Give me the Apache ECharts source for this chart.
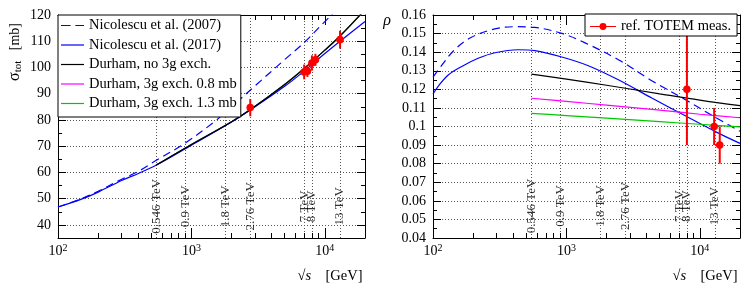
<!DOCTYPE html>
<html>
<head>
<meta charset="utf-8">
<script src="https://cdn.jsdelivr.net/npm/echarts@6/dist/echarts.min.js"></script>
<style>
html,body{margin:0;padding:0;background:#fff;}
#chart{width:747px;height:291px;}
</style>
</head>
<body>
<div id="chart"></div>
<script>
// ---------------- data ----------------
// vertical reference energies (GeV) and their labels
const ENERGIES = [546, 900, 1800, 2760, 7000, 8000, 13000];
const ENERGY_LABELS = ['0.546 TeV', '0.9 TeV', '1.8 TeV', '2.76 TeV', '7 TeV', '8 TeV', '13 TeV'];

// axis ticks
const X_MAJOR = [100, 1000, 10000];
const X_MINOR = [200, 300, 400, 500, 600, 700, 800, 900, 2000, 3000, 4000, 5000, 6000, 7000, 8000, 9000, 20000];
const SIG_Y_MAJOR = [40, 50, 60, 70, 80, 90, 100, 110, 120];
const SIG_Y_MINOR = [45, 55, 65, 75, 85, 95, 105, 115];
const RHO_Y_MAJOR = [0.04, 0.05, 0.06, 0.07, 0.08, 0.09, 0.1, 0.11, 0.12, 0.13, 0.14, 0.15, 0.16];
const RHO_Y_MINOR = [0.045, 0.055, 0.065, 0.075, 0.085, 0.095, 0.105, 0.115, 0.125, 0.135, 0.145, 0.155];

// sigma_tot [mb]
const E_NIC07_SIG = [100, 150, 200, 300, 400, 546, 900, 1500, 2000, 3000, 5000, 7000, 10000, 12000, 20000];
const SIG_NIC07 = [46.8, 50.0, 52.8, 57.4, 60.4, 64.6, 71.2, 79.5, 85.0, 93.0, 103.0, 109.5, 117.5, 121.5, 133.0];
const E_NIC17_SIG = [100, 150, 200, 300, 400, 546, 1000, 2000, 3000, 5000, 7000, 10000, 13000, 20000];
const SIG_NIC17 = [46.8, 49.8, 52.5, 56.9, 59.6, 62.8, 70.4, 79.2, 85.0, 92.8, 98.6, 105.3, 110.0, 117.5];
const E_DUR_SIG = [546, 1000, 2000, 3000, 5000, 7000, 10000, 13000, 20000];
const SIG_DUR_NO3G = [62.8, 70.6, 79.3, 85.2, 93.5, 99.6, 106.6, 112.0, 122.0];
const SIG_DUR_08 = [62.8, 70.6, 79.3, 85.2, 93.5, 99.6, 106.6, 112.0, 122.0];
const SIG_DUR_13 = [62.8, 70.6, 79.3, 85.2, 93.5, 99.6, 106.6, 112.0, 122.0];
const E_TOTEM_SIG = [2760, 7000, 7400, 8000, 8500, 13000];
const TOTEM_SIG = [84.7, 98.3, 98.6, 101.7, 102.9, 110.6];
const TOTEM_SIG_ERR = [3.3, 2.8, 2.2, 2.9, 2.3, 3.4];

// rho
const E_NIC07_RHO = [100, 115, 146, 194, 291, 411, 580, 923, 1380, 2470, 4400, 7850, 12450, 20000];
const RHO_NIC07 = [0.1265, 0.1325, 0.1415, 0.1480, 0.1525, 0.1537, 0.1533, 0.1501, 0.1450, 0.1358, 0.1245, 0.1143, 0.1058, 0.0974];
const E_NIC17_RHO = [100, 109, 130, 163, 218, 291, 435, 580, 923, 1460, 2470, 4400, 7850, 13900, 20000];
const RHO_NIC17 = [0.1175, 0.1215, 0.1277, 0.1322, 0.1367, 0.1397, 0.1413, 0.1408, 0.1374, 0.1327, 0.1250, 0.1152, 0.1056, 0.0963, 0.0909];
const E_DUR_RHO = [546, 1000, 2000, 5000, 10000, 20000];
const RHO_DUR_NO3G = [0.1282, 0.1255, 0.1222, 0.1176, 0.1142, 0.1112];
const RHO_DUR_08 = [0.1152, 0.1135, 0.1115, 0.1088, 0.1066, 0.1047];
const RHO_DUR_13 = [0.1071, 0.1059, 0.1045, 0.1026, 0.1012, 0.0998];
const E_TOTEM_RHO = [8000, 12800, 14100];
const TOTEM_RHO = [0.120, 0.100, 0.090];
const TOTEM_RHO_ERR = [0.030, 0.010, 0.010];

const NAMES = ['Nicolescu et al. (2007)', 'Nicolescu et al. (2017)', 'Durham, no 3g exch.', 'Durham, 3g exch. 0.8 mb', 'Durham, 3g exch. 1.3 mb'];
const TOTEM_NAME = 'ref. TOTEM meas.';

// ---------------- helpers ----------------
const FONT = 'Liberation Serif';
const pairs = (xs, ys) => xs.map((x, i) => [x, ys[i]]);
const triples = (xs, ys, es) => xs.map((x, i) => [x, ys[i], es[i]]);

const BLUE = '#0000ff', BLACK = '#000000', PINK = '#ff00ff', GREEN = '#00c800', RED = '#ff0000';
const GRIDLINE = {show: true, lineStyle: {color: '#555', type: [1, 2], width: 1}};
const ICON_SOLID = 'path://M0,0H23V1.2H0Z';
const ICON_DASHED = 'path://M0,0H10V1.2H0Z M15,0H24V1.2H15Z';

function xAxes(g) {
  const base = {gridIndex: g, type: 'log', logBase: 10, min: 100, max: 20000,
    splitLine: {show: false}, minorTick: {show: false}, minorSplitLine: {show: false}};
  const line = {show: true, onZero: false, lineStyle: {color: '#000', width: 1}};
  return [
    Object.assign({}, base, {position: 'bottom', axisLine: line,
      axisTick: {show: true, inside: true, length: 10, customValues: X_MAJOR, lineStyle: {color: '#000'}},
      axisLabel: {show: true, customValues: X_MAJOR, margin: 5, color: '#000',
        formatter: v => {
          const p = Math.round(Math.log10(v));
          return Math.abs(Math.log10(v) - p) < 1e-6 ? '{b|10}{s|' + p + '}' : '';
        },
        rich: {b: {fontFamily: FONT, fontSize: 14, color: '#000'},
               s: {fontFamily: FONT, fontSize: 10, color: '#000', padding: [0, 0, 7, 0]}}}}),
    Object.assign({}, base, {position: 'bottom', axisLine: {show: false},
      axisTick: {show: true, inside: true, length: 5, customValues: X_MINOR, lineStyle: {color: '#000'}},
      axisLabel: {show: false}}),
    Object.assign({}, base, {position: 'bottom', axisLine: {show: false},
      axisTick: {show: false, customValues: ENERGIES}, axisLabel: {show: false}, splitLine: GRIDLINE}),
    Object.assign({}, base, {position: 'top', axisLine: line,
      axisTick: {show: true, inside: true, length: 10, customValues: X_MAJOR, lineStyle: {color: '#000'}},
      axisLabel: {show: false}}),
    Object.assign({}, base, {position: 'top', axisLine: {show: false},
      axisTick: {show: true, inside: true, length: 5, customValues: X_MINOR, lineStyle: {color: '#000'}},
      axisLabel: {show: false}})
  ];
}

function yAxes(g, min, max, interval, major, minor, fmt) {
  const base = {gridIndex: g, type: 'value', min: min, max: max, interval: interval,
    splitLine: {show: false}, minorTick: {show: false}};
  const line = {show: true, onZero: false, lineStyle: {color: '#000', width: 1}};
  return [
    Object.assign({}, base, {position: 'left', axisLine: line,
      axisTick: {show: true, inside: true, length: 8, customValues: major, lineStyle: {color: '#000'}},
      axisLabel: {show: true, customValues: major, margin: 7, color: '#000', fontFamily: FONT, fontSize: 14, formatter: fmt},
      splitLine: GRIDLINE}),
    Object.assign({}, base, {position: 'left', axisLine: {show: false},
      axisTick: {show: true, inside: true, length: 4, customValues: minor, lineStyle: {color: '#000'}},
      axisLabel: {show: false}}),
    Object.assign({}, base, {position: 'right', axisLine: line,
      axisTick: {show: true, inside: true, length: 8, customValues: major, lineStyle: {color: '#000'}},
      axisLabel: {show: false}}),
    Object.assign({}, base, {position: 'right', axisLine: {show: false},
      axisTick: {show: true, inside: true, length: 4, customValues: minor, lineStyle: {color: '#000'}},
      axisLabel: {show: false}})
  ];
}

function curve(name, xi, yi, xs, ys, color, dashed) {
  return {name: name, type: 'line', xAxisIndex: xi, yAxisIndex: yi, data: pairs(xs, ys),
    symbol: 'none', smooth: 0.35, clip: true, z: 3,
    lineStyle: {color: color, width: 1.2, type: dashed ? [8, 5] : 'solid'},
    itemStyle: {color: color}, emphasis: {disabled: true}};
}

function errorPoints(name, xi, yi, xs, ys, es) {
  return {name: name, type: 'custom', xAxisIndex: xi, yAxisIndex: yi, data: triples(xs, ys, es),
    clip: true, z: 5, itemStyle: {color: RED},
    renderItem: (params, api) => {
      const x = api.value(0), y = api.value(1), e = api.value(2);
      const c = api.coord([x, y]);
      const t = api.coord([x, y + e]);
      const b = api.coord([x, y - e]);
      return {type: 'group', children: [
        {type: 'line', shape: {x1: c[0], y1: t[1], x2: c[0], y2: b[1]}, style: {stroke: RED, lineWidth: 2}},
        {type: 'circle', shape: {cx: c[0], cy: c[1], r: 3.8}, style: {fill: RED}}
      ]};
    }};
}

function energyLabels(xi, yi, yAnchor) {
  return {type: 'scatter', xAxisIndex: xi, yAxisIndex: yi, symbolSize: 0, z: 4, silent: true,
    data: ENERGIES.map((e, i) => ({value: [e, yAnchor], name: ENERGY_LABELS[i]})),
    label: {show: true, position: 'inside', rotate: 90, align: 'center', verticalAlign: 'middle',
      offset: [1, 0], formatter: '{b}', color: '#000', fontFamily: FONT, fontSize: 13}};
}

// x axes: grid0 -> 0..4, grid1 -> 5..9 ; y axes: grid0 -> 0..3, grid1 -> 4..7
const option = {
  backgroundColor: '#fff',
  animation: false,
  grid: [
    {left: 58, top: 15, width: 307, height: 223},
    {left: 433, top: 15, width: 307, height: 223}
  ],
  xAxis: xAxes(0).concat(xAxes(1)),
  yAxis: yAxes(0, 35, 120, 5, SIG_Y_MAJOR, SIG_Y_MINOR, v => (v % 10 === 0 ? String(v) : ''))
    .concat(yAxes(1, 0.04, 0.16, 0.01, RHO_Y_MAJOR, RHO_Y_MINOR, undefined)),
  legend: [
    {orient: 'vertical', left: 58, top: 15, padding: [3, 4, 6, 3], itemGap: 4.5, itemWidth: 23, itemHeight: 14,
      borderColor: '#000', borderWidth: 1, borderRadius: 0, backgroundColor: '#fff', z: 20,
      symbolKeepAspect: true, itemStyle: {borderWidth: 0},
      textStyle: {fontFamily: FONT, fontSize: 14.5, color: '#000'},
      data: NAMES.map((n, i) => ({name: n, icon: i === 0 ? ICON_DASHED : ICON_SOLID}))},
    {orient: 'vertical', left: 585, top: 14, padding: [5, 6, 2, 5], itemWidth: 26, itemHeight: 8,
      borderColor: '#000', borderWidth: 1, borderRadius: 0, backgroundColor: '#fff', z: 20,
      itemStyle: {borderWidth: 0},
      textStyle: {fontFamily: FONT, fontSize: 14.5, color: '#000'},
      data: [{name: TOTEM_NAME, icon: 'path://M0,3.4H30V4.6H0Z M11,4A4,4 0 1,1 19,4A4,4 0 1,1 11,4Z', itemStyle: {color: RED}}]}
  ],
  graphic: [
    {type: 'text', x: 15, y: 52, rotation: Math.PI / 2, z: 30,
      style: {text: '{g|σ}{t|tot}   [mb]', align: 'center', verticalAlign: 'middle',
        fontFamily: FONT, fontSize: 14, fill: '#000',
        rich: {g: {fontFamily: FONT, fontSize: 16, fill: '#000', color: '#000'},
               t: {fontFamily: FONT, fontSize: 11, fill: '#000', color: '#000', padding: [7, 0, 0, 0]}}}},
    {type: 'text', x: 330, y: 276, z: 30,
      style: {text: '√{i|s}    [GeV]', align: 'center', verticalAlign: 'middle',
        fontFamily: FONT, fontSize: 14.5, fill: '#000',
        rich: {i: {fontFamily: FONT, fontSize: 14.5, fontStyle: 'italic', fill: '#000', color: '#000'}}}},
    {type: 'text', x: 705, y: 276, z: 30,
      style: {text: '√{i|s}    [GeV]', align: 'center', verticalAlign: 'middle',
        fontFamily: FONT, fontSize: 14.5, fill: '#000',
        rich: {i: {fontFamily: FONT, fontSize: 14.5, fontStyle: 'italic', fill: '#000', color: '#000'}}}},
    {type: 'text', x: 387, y: 21, z: 30,
      style: {text: 'ρ', align: 'center', verticalAlign: 'middle', fontFamily: FONT, fontSize: 16, fontStyle: 'italic', fill: '#000'}}
  ],
  series: [
    // sigma_tot panel
    curve(NAMES[3], 0, 0, E_DUR_SIG, SIG_DUR_08, PINK, false),
    curve(NAMES[4], 0, 0, E_DUR_SIG, SIG_DUR_13, GREEN, false),
    curve(NAMES[1], 0, 0, E_NIC17_SIG, SIG_NIC17, BLUE, false),
    curve(NAMES[2], 0, 0, E_DUR_SIG, SIG_DUR_NO3G, BLACK, false),
    curve(NAMES[0], 0, 0, E_NIC07_SIG, SIG_NIC07, BLUE, true),
    errorPoints('TOTEM sigma', 0, 0, E_TOTEM_SIG, TOTEM_SIG, TOTEM_SIG_ERR),
    energyLabels(0, 0, 46.7),
    // rho panel
    curve(NAMES[0], 5, 4, E_NIC07_RHO, RHO_NIC07, BLUE, true),
    curve(NAMES[1], 5, 4, E_NIC17_RHO, RHO_NIC17, BLUE, false),
    curve(NAMES[2], 5, 4, E_DUR_RHO, RHO_DUR_NO3G, BLACK, false),
    curve(NAMES[3], 5, 4, E_DUR_RHO, RHO_DUR_08, PINK, false),
    curve(NAMES[4], 5, 4, E_DUR_RHO, RHO_DUR_13, GREEN, false),
    errorPoints(TOTEM_NAME, 5, 4, E_TOTEM_RHO, TOTEM_RHO, TOTEM_RHO_ERR),
    energyLabels(5, 4, 0.0567)
  ]
};

const chart = echarts.init(document.getElementById('chart'), null, {renderer: 'canvas'});
chart.setOption(option);
</script>
</body>
</html>
